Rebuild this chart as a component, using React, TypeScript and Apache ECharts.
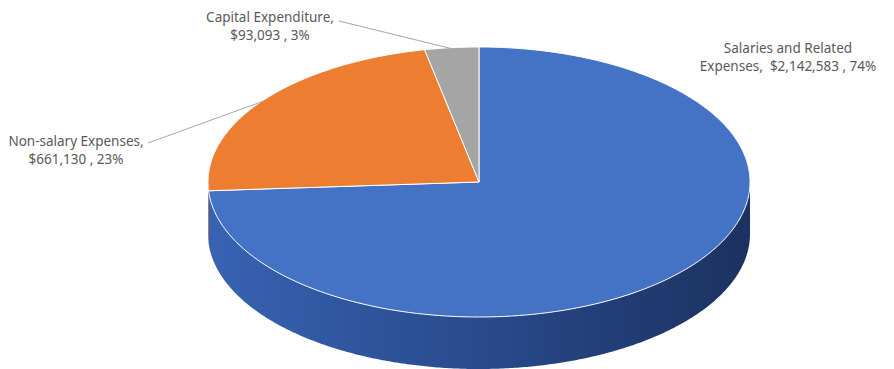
import React, { useEffect, useRef } from "react";
import * as echarts from "echarts";

const CATEGORIES = ["Salaries and Related Expenses", "Non-salary Expenses", "Capital Expenditure"];
const VALUES = [2142583, 661130, 93093];
const COLORS = ["#4472C4", "#ED7D31", "#A5A5A5"];
// Excel wrapped text for each label (line break after this many words of the label)
const LABEL_BREAK = ["Salaries and Related", null, null];

// layout (not data)
const CX = 479;
const CY = 182;
const RX = 271;
const RY = 135;
const DEPTH = 52;
const LABEL_POS: [number, number][] = [
  [788, 57],
  [76, 150],
  [270, 26],
];
const LEADER_START: ([number, number] | null)[] = [null, [148, 143], [339, 21]];

const TOTAL = VALUES.reduce((a, b) => a + b, 0);

function pt(a: number, dy = 0): number[] {
  return [CX + RX * Math.sin(a), CY - RY * Math.cos(a) + dy];
}

function angles(i: number): [number, number] {
  let before = 0;
  for (let k = 0; k < i; k++) before += VALUES[k];
  const a1 = (before / TOTAL) * Math.PI * 2;
  const a2 = ((before + VALUES[i]) / TOTAL) * Math.PI * 2;
  return [a1, a2];
}

function arc(a1: number, a2: number, dy = 0): number[][] {
  const pts: number[][] = [];
  const n = Math.max(2, Math.ceil(((a2 - a1) * 180) / Math.PI / 0.5));
  for (let k = 0; k <= n; k++) pts.push(pt(a1 + ((a2 - a1) * k) / n, dy));
  return pts;
}

function fmtMoney(v: number) {
  return "$" + v.toLocaleString("en-US");
}

function labelText(i: number) {
  const name = CATEGORIES[i];
  const pct = Math.round((VALUES[i] / TOTAL) * 100);
  const tail = `${fmtMoney(VALUES[i])} , ${pct}%`;
  const br = LABEL_BREAK[i];
  if (br) {
    return `${br}\n${name.slice(br.length).trim()},  ${tail}`;
  }
  return `${name},\n${tail}`;
}

const SIDE_COLORS = [
  ["#3763b3", "#294a8c", "#1c3160"],
  ["#c8641f", "#b3581a", "#9a4a14"],
  ["#8a8a8a", "#7a7a7a", "#6a6a6a"],
];

export default function App() {
  const ref = useRef<HTMLDivElement>(null);
  useEffect(() => {
    document.body.style.margin = "0";
    if (!ref.current) return;
    const chart = echarts.init(ref.current, null, { renderer: "svg" });
    const data = VALUES.map((v, i) => ({ name: CATEGORIES[i], value: v }));
    chart.setOption({
      animation: false,
      backgroundColor: "#ffffff",
      series: [
        {
          type: "custom",
          name: "sides",
          coordinateSystem: "none",
          z: 1,
          silent: true,
          data,
          renderItem: (params: any, api: any) => {
            const i = params.dataIndex;
            api.value(0);
            const [a1, a2] = angles(i);
            const s = Math.max(a1, Math.PI / 2);
            const e = Math.min(a2, (Math.PI * 3) / 2);
            if (e <= s) return { type: "group", children: [] };
            const top = arc(s, e, 0);
            const bottom = arc(s, e, DEPTH).reverse();
            const c = SIDE_COLORS[i];
            return {
              type: "polygon",
              shape: { points: top.concat(bottom) },
              style: {
                fill: new echarts.graphic.LinearGradient(0, 0, 1, 0, [
                  { offset: 0, color: c[0] },
                  { offset: 0.5, color: c[1] },
                  { offset: 1, color: c[2] },
                ]),
                stroke: "none",
              },
            };
          },
        },
        {
          type: "custom",
          name: "tops",
          coordinateSystem: "none",
          z: 2,
          data,
          renderItem: (params: any, api: any) => {
            const i = params.dataIndex;
            api.value(0);
            const [a1, a2] = angles(i);
            const pts = [[CX, CY]].concat(arc(a1, a2, 0));
            const children: any[] = [
              {
                type: "polygon",
                shape: { points: pts },
                style: {
                  fill: COLORS[i],
                  stroke: "#ffffff",
                  lineWidth: 1,
                  lineJoin: "round",
                },
              },
            ];
            const lp = LABEL_POS[i];
            const ls = LEADER_START[i];
            if (ls) {
              const mid = pt((a1 + a2) / 2, 0);
              children.push({
                type: "line",
                shape: { x1: ls[0], y1: ls[1], x2: mid[0], y2: mid[1] + 1 },
                style: { stroke: "#a6a6a6", lineWidth: 1 },
              });
            }
            children.push({
              type: "text",
              x: lp[0],
              y: lp[1],
              style: {
                text: labelText(i),
                fill: "#595959",
                fontSize: 13.5,
                fontFamily: "Noto Sans",
                align: "center",
                verticalAlign: "middle",
                lineHeight: 18,
              },
            });
            return { type: "group", children };
          },
        },
      ],
    });
    return () => chart.dispose();
  }, []);
  return <div ref={ref} style={{ width: 894, height: 369 }} />;
}
